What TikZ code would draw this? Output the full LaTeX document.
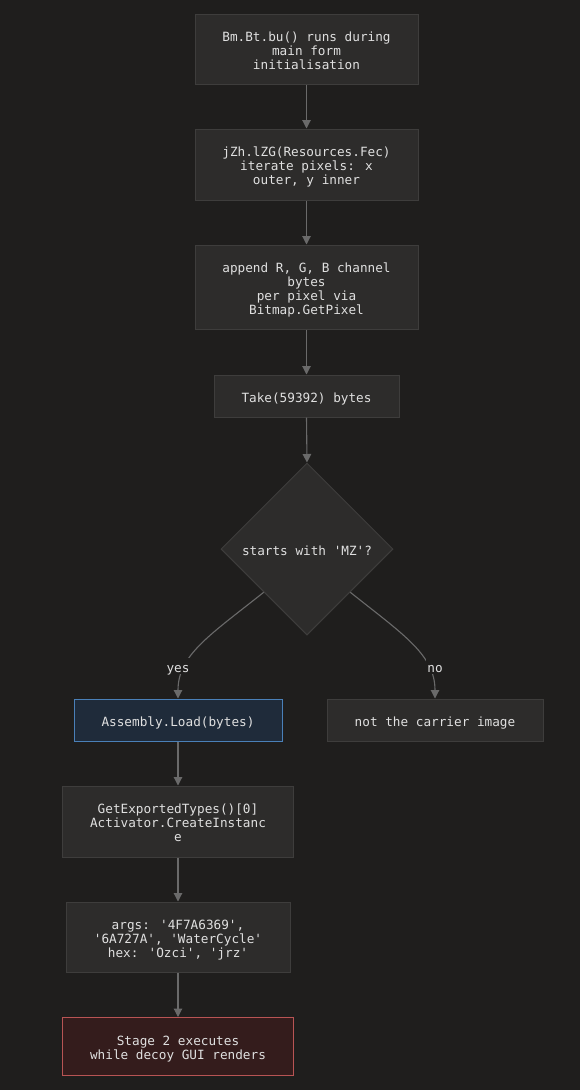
\documentclass[tikz,border=0pt]{standalone}
\usepackage{fontspec}
\newfontfamily\monof{DejaVu Sans Mono}
\usetikzlibrary{shapes.geometric,arrows.meta}
\definecolor{bgc}{HTML}{1F1E1D}
\definecolor{boxfill}{HTML}{2D2C2B}
\definecolor{boxline}{HTML}{3E3D3C}
\definecolor{txt}{HTML}{E0E0E0}
\definecolor{edgec}{HTML}{6A6A6A}
\definecolor{asmfill}{HTML}{1F2B3A}
\definecolor{asmline}{HTML}{4A80B8}
\definecolor{stfill}{HTML}{341C1C}
\definecolor{stline}{HTML}{B85454}
\newcommand\tl[1]{\raisebox{-3.5pt}[\height][\depth]{\begin{tabular}{@{}c@{}}#1\end{tabular}}}
\tikzset{
  base/.style={font=\monof\fontsize{12.7}{14}\selectfont, text=txt, inner sep=0pt},
  box/.style={base, rectangle, fill=boxfill, draw=boxline, line width=1pt},
  asmbox/.style={base, rectangle, fill=asmfill, draw=asmline, line width=1pt},
  stagebox/.style={base, rectangle, fill=stfill, draw=stline, line width=1pt},
  decision/.style={base, diamond, fill=boxfill, draw=boxline, line width=1pt, minimum width=172pt, minimum height=172pt, aspect=1},
  conn/.style={draw=edgec, line width=1.1pt, -{Triangle[width=8.5pt,length=8.5pt]}},
  elabel/.style={base, fill=bgc, inner sep=1pt}
}
\begin{document}
\begin{tikzpicture}[x=1pt,y=-1pt]
\fill[bgc] (0,0) rectangle (580,1090);
\useasboundingbox (0,0) rectangle (580,1090);

\node[box, minimum width=223pt, minimum height=70pt] (n1) at (306.5,49) {\tl{Bm.Bt.bu() runs during\\main form\\initialisation}};
\node[box, minimum width=223pt, minimum height=71pt] (n2) at (306.5,164.5) {\tl{jZh.lZG(Resources.Fec)\\iterate pixels: x\\outer, y inner}};
\node[box, minimum width=223pt, minimum height=84pt] (n3) at (306.5,287) {\tl{append R, G, B channel\\bytes\\per pixel via\\Bitmap.GetPixel}};
\node[box, minimum width=185pt, minimum height=42pt] (n4) at (306.5,396) {\tl{Take(59392) bytes}};
\node[decision] (d) at (307,549) {\tl{starts with 'MZ'?}};
\node[asmbox, minimum width=208pt, minimum height=42pt] (asm) at (178,720) {\tl{Assembly.Load(bytes)}};
\node[box, minimum width=216pt, minimum height=42pt] (nc) at (435,720) {\tl{not the carrier image}};
\node[box, minimum width=231pt, minimum height=71pt] (g) at (178,821.5) {\tl{GetExportedTypes()[0]\\Activator.CreateInstanc\\e}};
\node[box, minimum width=224pt, minimum height=70pt] (a) at (178,937) {\tl{args: '4F7A6369',\\'6A727A', 'WaterCycle'\\hex: 'Ozci', 'jrz'}};
\node[stagebox, minimum width=231pt, minimum height=58pt] (s) at (178,1046.5) {\tl{Stage 2 executes\\while decoy GUI renders}};

\draw[conn] (n1.south) -- (n2.north);
\draw[conn] (n2.south) -- (n3.north);
\draw[conn] (n3.south) -- (n4.north);
\draw[conn] (n4.south) -- (d.north);
\draw[conn] (d.south west) .. controls (210,635) and (178,655) .. (asm.north);
\draw[conn] (d.south east) .. controls (404,635) and (435,655) .. (nc.north);
\node[elabel] (yes) at (178,666) {\tl{yes}};
\node[elabel] (no) at (435,666) {\tl{no}};
\draw[conn] (asm.south) -- (g.north);
\draw[conn] (g.south) -- (a.north);
\draw[conn] (a.south) -- (s.north);
\end{tikzpicture}
\end{document}
